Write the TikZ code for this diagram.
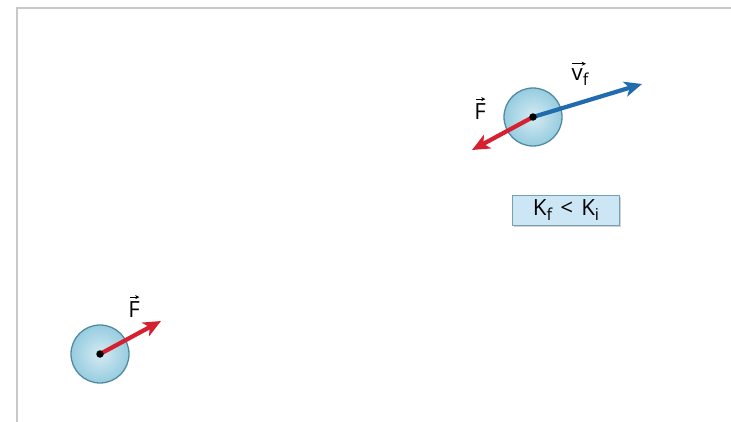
\documentclass[tikz,border=0pt]{standalone}
\usepackage{fontspec}
\setmainfont{Open Sans}
\usetikzlibrary{arrows.meta,shadows}
\definecolor{forcered}{RGB}{214,32,48}
\definecolor{velblue}{RGB}{32,108,172}
\definecolor{ballfill}{RGB}{150,204,224}
\definecolor{ballline}{RGB}{80,138,160}
\definecolor{boxfill}{RGB}{204,230,245}
\definecolor{frameline}{RGB}{200,200,200}
\newcommand{\subf}[1]{\raisebox{-4pt}{\fontsize{14}{14}\selectfont #1}}
\tikzset{
  ball/.style={circle,minimum size=1.74cm,inner sep=0pt,draw=ballline,line width=1.1pt,
    inner color=ballfill!40,outer color=ballfill},
  vecarrow/.style={-{Stealth[length=15pt,width=13pt,inset=4pt]},line width=3.6pt},
  lbl/.style={font=\fontsize{19}{21}\selectfont,inner sep=1pt},
  overarrow/.style={-{Stealth[length=3.5pt,width=3.5pt]},line width=0.8pt}
}
\begin{document}
\begin{tikzpicture}[x=0.03cm,y=-0.03cm]
  \useasboundingbox (0,0) rectangle (731,422);
  % 外框（左、上两条浅灰线）
  \draw[frameline,line width=1pt] (17,422) -- (17,8) -- (731,8);
  % 下方小球，受力 F（红色，右上）
  \node[ball] (b1) at (100,354) {};
  \coordinate (F1) at (161,321);
  \draw[vecarrow,forcered] (b1.center) -- (F1);
  \node[lbl] (lF1) at (134,310) {F};
  \draw[overarrow] ([xshift=-3.5pt,yshift=3pt]lF1.north) -- ([xshift=4.5pt,yshift=3pt]lF1.north);
  \fill (b1.center) circle (3.2pt);
  % 上方小球，F 与 v_f 反向
  \node[ball] (b2) at (533,117) {};
  \coordinate (F2) at (472,150);
  \coordinate (v2) at (642,84);
  \draw[vecarrow,velblue] (b2.center) -- (v2);
  \draw[vecarrow,forcered] (b2.center) -- (F2);
  \node[lbl] (lF2) at (480,112) {F};
  \draw[overarrow] ([xshift=-3.5pt,yshift=3pt]lF2.north) -- ([xshift=4.5pt,yshift=3pt]lF2.north);
  \node[lbl] (lv2) at (580,77) {v\subf{f}};
  \draw[overarrow] ([xshift=-7pt,yshift=3pt]lv2.north) -- ([xshift=5pt,yshift=3pt]lv2.north);
  \fill (b2.center) circle (3.2pt);
  % K_f < K_i 标签框
  \node[lbl,draw=ballline!80,fill=boxfill,line width=0.8pt,drop shadow={opacity=0.35,shadow xshift=1pt,shadow yshift=-1.5pt},
    minimum width=3.2cm,minimum height=0.9cm,inner sep=2pt] (cmp) at (566,210)
    {K\subf{f}\hspace{7pt}<\hspace{7pt}K\subf{i}};
\end{tikzpicture}
\end{document}
